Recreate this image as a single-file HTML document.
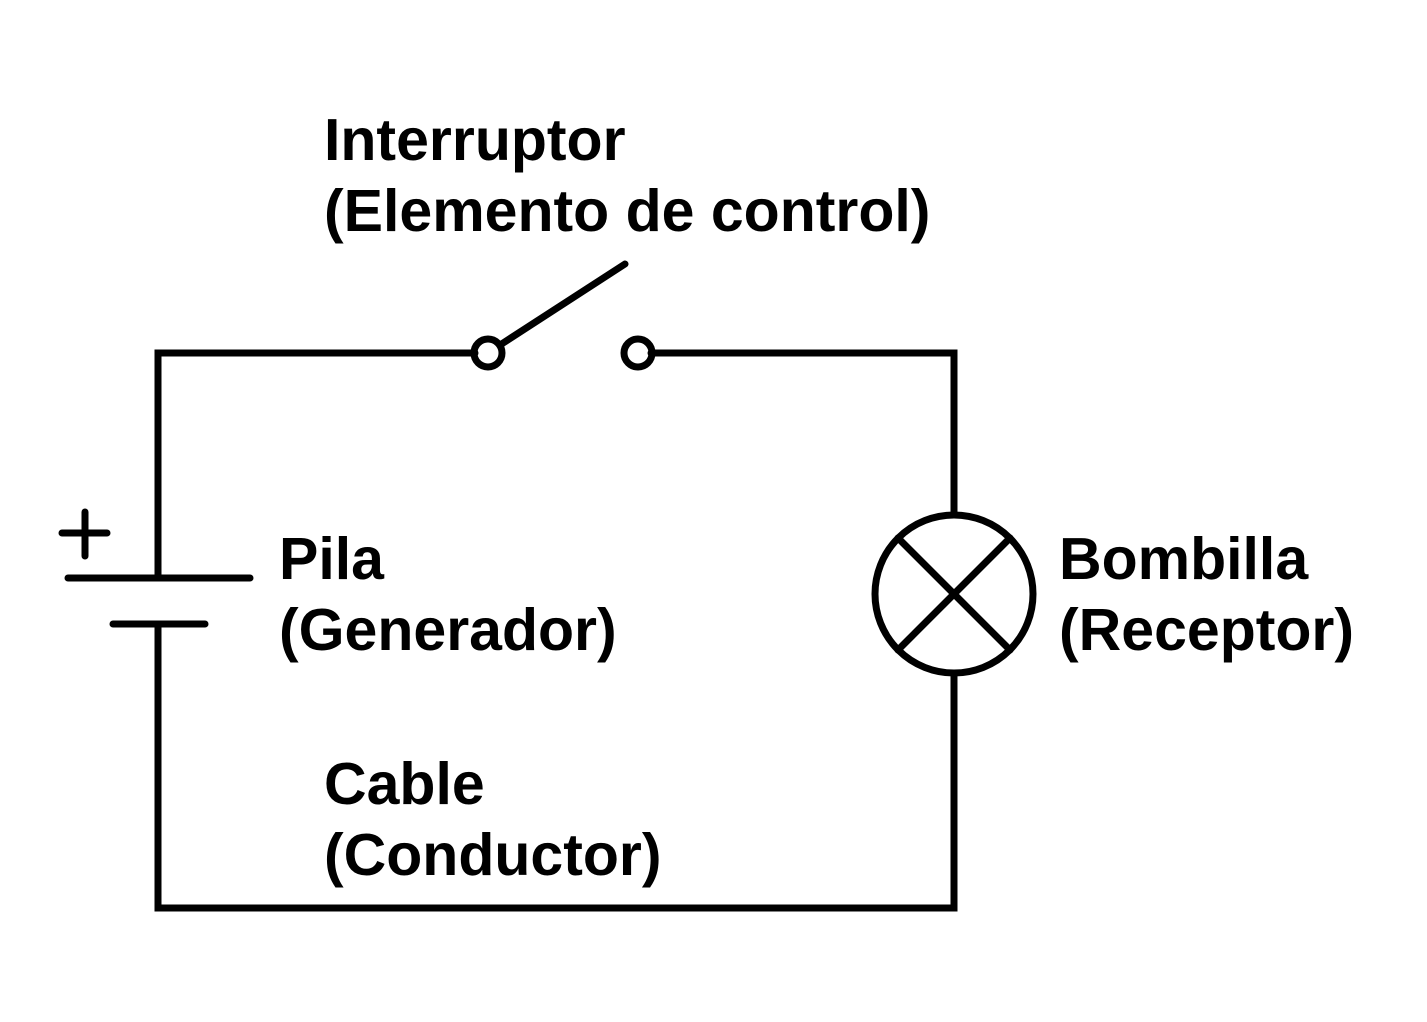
<!DOCTYPE html>
<html><head><meta charset="utf-8"><style>
html,body{margin:0;padding:0;background:#fff;}
svg{display:block}
text{font-family:"Liberation Sans",Arial,sans-serif;font-weight:bold;font-size:59px;fill:#000}
</style></head><body>
<svg width="1427" height="1022" viewBox="0 0 1427 1022" xmlns="http://www.w3.org/2000/svg">
<g stroke="#000" stroke-width="7" fill="none" stroke-linecap="round">
<polyline points="475,353 158,353 158,578"/>
<polyline points="158,624 158,908 954,908 954,673"/>
<polyline points="651,353 954,353 954,515"/>
<circle cx="488" cy="353" r="14"/>
<circle cx="638" cy="353" r="14"/>
<line x1="500" y1="345" x2="625" y2="264"/>
<line x1="68" y1="578" x2="250" y2="578"/>
<line x1="113" y1="624" x2="205" y2="624"/>
<line x1="62" y1="533" x2="107" y2="533"/>
<line x1="85" y1="512" x2="85" y2="556"/>
<circle cx="954" cy="594" r="79"/>
<line x1="898" y1="538" x2="1010" y2="650"/>
<line x1="1010" y1="538" x2="898" y2="650"/>
</g>
<text x="324" y="160">Interruptor</text>
<text x="324" y="231">(Elemento de control)</text>
<text x="279" y="579">Pila</text>
<text x="279" y="650">(Generador)</text>
<text x="1059" y="579">Bombilla</text>
<text x="1059" y="650">(Receptor)</text>
<text x="324" y="804">Cable</text>
<text x="324" y="875">(Conductor)</text>
</svg>
</body></html>
